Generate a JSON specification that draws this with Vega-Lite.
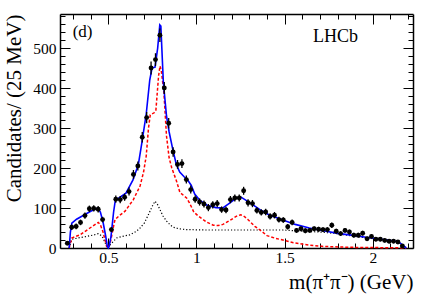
{
  "$schema": "https://vega.github.io/schema/vega-lite/v6.json",
  "width": 353,
  "height": 234,
  "autosize": {"type": "none"},
  "padding": {"left": 60, "top": 14, "right": 23, "bottom": 48},
  "background": "white",
  "config": {
    "view": {"stroke": null},
    "font": "Liberation Serif",
    "axis": {
      "labelFont": "Liberation Serif",
      "titleFont": "Liberation Serif",
      "labelColor": "black",
      "titleColor": "black",
      "tickColor": "black",
      "domainColor": "black",
      "domainWidth": 1.5,
      "tickWidth": 1,
      "grid": false,
      "labelFontSize": 15.5,
      "titleFontSize": 21,
      "titleFontWeight": "normal"
    }
  },
  "datasets": {
    "pts": [
      {"m": 0.2675, "n": 12, "e": 4}, {"m": 0.2925, "n": 52, "e": 7}, {"m": 0.3175, "n": 54, "e": 7},
      {"m": 0.3425, "n": 64, "e": 7}, {"m": 0.3675, "n": 81, "e": 8}, {"m": 0.3925, "n": 98, "e": 8},
      {"m": 0.4175, "n": 99, "e": 8}, {"m": 0.4425, "n": 97, "e": 8}, {"m": 0.4675, "n": 71, "e": 7},
      {"m": 0.5175, "n": 46, "e": 6}, {"m": 0.5425, "n": 122, "e": 9}, {"m": 0.5675, "n": 121, "e": 9},
      {"m": 0.5925, "n": 127, "e": 9}, {"m": 0.6175, "n": 141, "e": 10}, {"m": 0.6425, "n": 184, "e": 11},
      {"m": 0.6675, "n": 205, "e": 11}, {"m": 0.6925, "n": 277, "e": 13}, {"m": 0.7175, "n": 326, "e": 14},
      {"m": 0.7425, "n": 450, "e": 16}, {"m": 0.7675, "n": 471, "e": 16}, {"m": 0.7925, "n": 532, "e": 17},
      {"m": 0.8175, "n": 400, "e": 15}, {"m": 0.8425, "n": 312, "e": 13}, {"m": 0.8675, "n": 240, "e": 12},
      {"m": 0.8925, "n": 209, "e": 11}, {"m": 0.9175, "n": 211, "e": 11}, {"m": 0.9425, "n": 171, "e": 10},
      {"m": 0.9675, "n": 146, "e": 10}, {"m": 0.9925, "n": 122, "e": 9}, {"m": 1.0175, "n": 115, "e": 9},
      {"m": 1.0425, "n": 110, "e": 9}, {"m": 1.0675, "n": 101, "e": 9}, {"m": 1.0925, "n": 108, "e": 9},
      {"m": 1.1175, "n": 111, "e": 9}, {"m": 1.1425, "n": 96, "e": 8}, {"m": 1.1675, "n": 95, "e": 8},
      {"m": 1.1925, "n": 121, "e": 9}, {"m": 1.2175, "n": 125, "e": 9}, {"m": 1.2425, "n": 125, "e": 9},
      {"m": 1.2675, "n": 143, "e": 10}, {"m": 1.2925, "n": 113, "e": 9}, {"m": 1.3175, "n": 111, "e": 9},
      {"m": 1.3425, "n": 94, "e": 8}, {"m": 1.3675, "n": 89, "e": 8}, {"m": 1.3925, "n": 90, "e": 8},
      {"m": 1.4175, "n": 79, "e": 8}, {"m": 1.4425, "n": 82, "e": 8}, {"m": 1.4675, "n": 71, "e": 7},
      {"m": 1.4925, "n": 70, "e": 7}, {"m": 1.5175, "n": 53, "e": 7}, {"m": 1.5425, "n": 64, "e": 7},
      {"m": 1.5675, "n": 44, "e": 6}, {"m": 1.5925, "n": 48, "e": 6}, {"m": 1.6175, "n": 43, "e": 6},
      {"m": 1.6425, "n": 44, "e": 6}, {"m": 1.6675, "n": 48, "e": 6}, {"m": 1.6925, "n": 47, "e": 6},
      {"m": 1.7175, "n": 46, "e": 6}, {"m": 1.7425, "n": 46, "e": 6}, {"m": 1.7675, "n": 57, "e": 7},
      {"m": 1.7925, "n": 42, "e": 6}, {"m": 1.8175, "n": 36, "e": 6}, {"m": 1.8425, "n": 44, "e": 6},
      {"m": 1.8675, "n": 40, "e": 6}, {"m": 1.8925, "n": 32, "e": 6}, {"m": 1.9175, "n": 32, "e": 6},
      {"m": 1.9425, "n": 37, "e": 6}, {"m": 1.9675, "n": 23, "e": 5}, {"m": 1.9925, "n": 29, "e": 5},
      {"m": 2.0175, "n": 22, "e": 5}, {"m": 2.0425, "n": 22, "e": 5}, {"m": 2.0675, "n": 19, "e": 5},
      {"m": 2.0925, "n": 17, "e": 5}, {"m": 2.1175, "n": 17, "e": 5}, {"m": 2.1425, "n": 15, "e": 5},
      {"m": 2.1675, "n": 5, "e": 3}
    ],
    "blue": [
      {"m": 0.278, "v": 0}, {"m": 0.285, "v": 40}, {"m": 0.293, "v": 62}, {"m": 0.32, "v": 72},
      {"m": 0.36, "v": 82}, {"m": 0.40, "v": 92}, {"m": 0.44, "v": 100}, {"m": 0.455, "v": 90},
      {"m": 0.47, "v": 65}, {"m": 0.485, "v": 30}, {"m": 0.495, "v": 3}, {"m": 0.5, "v": 0},
      {"m": 0.505, "v": 5}, {"m": 0.515, "v": 28}, {"m": 0.53, "v": 90}, {"m": 0.54, "v": 120},
      {"m": 0.56, "v": 125}, {"m": 0.60, "v": 137}, {"m": 0.64, "v": 170}, {"m": 0.67, "v": 208},
      {"m": 0.69, "v": 262}, {"m": 0.715, "v": 335}, {"m": 0.735, "v": 420}, {"m": 0.748, "v": 450},
      {"m": 0.765, "v": 452}, {"m": 0.78, "v": 500}, {"m": 0.792, "v": 558}, {"m": 0.798, "v": 555},
      {"m": 0.812, "v": 415}, {"m": 0.83, "v": 330}, {"m": 0.845, "v": 290}, {"m": 0.865, "v": 248},
      {"m": 0.885, "v": 210}, {"m": 0.905, "v": 190}, {"m": 0.93, "v": 178}, {"m": 0.95, "v": 170},
      {"m": 0.97, "v": 157}, {"m": 0.99, "v": 135}, {"m": 1.02, "v": 119}, {"m": 1.06, "v": 107},
      {"m": 1.11, "v": 101}, {"m": 1.15, "v": 100}, {"m": 1.19, "v": 113}, {"m": 1.22, "v": 123},
      {"m": 1.25, "v": 128}, {"m": 1.275, "v": 121}, {"m": 1.31, "v": 111}, {"m": 1.36, "v": 96},
      {"m": 1.41, "v": 83}, {"m": 1.49, "v": 70}, {"m": 1.56, "v": 59}, {"m": 1.64, "v": 50},
      {"m": 1.72, "v": 43}, {"m": 1.81, "v": 36}, {"m": 1.9, "v": 31}, {"m": 1.96, "v": 27},
      {"m": 2.05, "v": 22}, {"m": 2.13, "v": 17}, {"m": 2.16, "v": 11}, {"m": 2.175, "v": 5},
      {"m": 2.19, "v": 0}
    ],
    "red": [
      {"m": 0.278, "v": 0}, {"m": 0.293, "v": 25}, {"m": 0.34, "v": 33}, {"m": 0.396, "v": 50},
      {"m": 0.443, "v": 64}, {"m": 0.455, "v": 58}, {"m": 0.47, "v": 40}, {"m": 0.49, "v": 5},
      {"m": 0.497, "v": 0}, {"m": 0.505, "v": 5}, {"m": 0.515, "v": 21}, {"m": 0.53, "v": 55},
      {"m": 0.538, "v": 71}, {"m": 0.56, "v": 80}, {"m": 0.595, "v": 92}, {"m": 0.642, "v": 121},
      {"m": 0.68, "v": 155}, {"m": 0.70, "v": 190}, {"m": 0.715, "v": 230}, {"m": 0.728, "v": 300},
      {"m": 0.738, "v": 333}, {"m": 0.76, "v": 338}, {"m": 0.77, "v": 345}, {"m": 0.785, "v": 430},
      {"m": 0.793, "v": 455}, {"m": 0.80, "v": 445}, {"m": 0.815, "v": 390}, {"m": 0.83, "v": 280},
      {"m": 0.845, "v": 225}, {"m": 0.86, "v": 200}, {"m": 0.887, "v": 167}, {"m": 0.906, "v": 139},
      {"m": 0.944, "v": 125}, {"m": 0.96, "v": 113}, {"m": 0.985, "v": 90}, {"m": 1.01, "v": 80},
      {"m": 1.057, "v": 65}, {"m": 1.095, "v": 57}, {"m": 1.123, "v": 56}, {"m": 1.15, "v": 59},
      {"m": 1.19, "v": 69}, {"m": 1.225, "v": 79}, {"m": 1.25, "v": 83}, {"m": 1.265, "v": 81},
      {"m": 1.29, "v": 72}, {"m": 1.331, "v": 54}, {"m": 1.36, "v": 45}, {"m": 1.40, "v": 31},
      {"m": 1.45, "v": 24}, {"m": 1.49, "v": 20}, {"m": 1.55, "v": 13}, {"m": 1.643, "v": 7},
      {"m": 1.72, "v": 4}, {"m": 1.813, "v": 2.5}, {"m": 1.9, "v": 1.5}, {"m": 2.0, "v": 1},
      {"m": 2.1, "v": 0.8}, {"m": 2.19, "v": 0}
    ],
    "black": [
      {"m": 0.278, "v": 0}, {"m": 0.293, "v": 22}, {"m": 0.34, "v": 26}, {"m": 0.378, "v": 29},
      {"m": 0.42, "v": 33}, {"m": 0.443, "v": 36}, {"m": 0.46, "v": 31}, {"m": 0.47, "v": 25},
      {"m": 0.485, "v": 10}, {"m": 0.494, "v": 0}, {"m": 0.505, "v": 5}, {"m": 0.519, "v": 12},
      {"m": 0.547, "v": 25}, {"m": 0.58, "v": 29}, {"m": 0.623, "v": 33}, {"m": 0.66, "v": 42},
      {"m": 0.68, "v": 50}, {"m": 0.705, "v": 63}, {"m": 0.727, "v": 83}, {"m": 0.75, "v": 105},
      {"m": 0.765, "v": 117}, {"m": 0.78, "v": 108}, {"m": 0.793, "v": 96}, {"m": 0.81, "v": 80},
      {"m": 0.831, "v": 67}, {"m": 0.85, "v": 58}, {"m": 0.868, "v": 52}, {"m": 0.9, "v": 48},
      {"m": 0.944, "v": 46}, {"m": 1.057, "v": 45}, {"m": 1.2, "v": 45}, {"m": 1.4, "v": 45},
      {"m": 1.49, "v": 45}, {"m": 1.6, "v": 42}, {"m": 1.7, "v": 40}, {"m": 1.775, "v": 37},
      {"m": 1.87, "v": 31}, {"m": 1.964, "v": 25}, {"m": 2.05, "v": 21}, {"m": 2.134, "v": 17},
      {"m": 2.16, "v": 11}, {"m": 2.175, "v": 5}, {"m": 2.19, "v": 0}
    ],
    "labels": [
      {"m": 0.298, "v": 541, "t": "(d)", "s": 17},
      {"m": 1.661, "v": 527, "t": "LHCb", "s": 18}
    ]
  },
  "resolve": {"axis": {"x": "independent", "y": "independent"}},
  "layer": [
    {
      "data": {"name": "black"},
      "mark": {"type": "line", "color": "black", "strokeWidth": 1.2, "strokeDash": [1.2, 2]},
      "encoding": {
        "x": {"field": "m", "type": "quantitative", "scale": {"domain": [0.226, 2.228], "nice": false, "zero": false},
          "axis": {"orient": "bottom", "title": "m(π⁺π⁻) (GeV)", "titleAnchor": "end", "titlePadding": 1,
            "labelFont": "Liberation Serif", "titleFont": "Liberation Serif",
            "values": [0.3, 0.4, 0.5, 0.6, 0.7, 0.8, 0.9, 1.0, 1.1, 1.2, 1.3, 1.4, 1.5, 1.6, 1.7, 1.8, 1.9, 2.0, 2.1, 2.2],
            "labelExpr": "abs(datum.value*2 - round(datum.value*2)) < 0.001 ? toString(round(datum.value*10)/10) : ''",
            "tickSize": {"condition": {"test": "abs(datum.value*2 - round(datum.value*2)) < 0.001", "value": -10}, "value": -5},
            "labelPadding": 12, "labelFlush": false, "labelOverlap": false}},
        "y": {"field": "v", "type": "quantitative", "scale": {"domain": [0, 585], "nice": false},
          "axis": {"orient": "left", "title": "Candidates/ (25 MeV)", "titleAnchor": "end", "titlePadding": 8,
            "labelFont": "Liberation Serif", "titleFont": "Liberation Serif",
            "values": [0, 20, 40, 60, 80, 100, 120, 140, 160, 180, 200, 220, 240, 260, 280, 300, 320, 340, 360, 380, 400, 420, 440, 460, 480, 500, 520, 540, 560, 580],
            "labelExpr": "datum.value % 100 === 0 ? datum.label : ''",
            "tickSize": {"condition": {"test": "datum.value % 100 === 0", "value": -10}, "value": -5},
            "labelPadding": 14, "labelOverlap": false, "labelFlush": false}}
      }
    },
    {
      "data": {"name": "red"},
      "mark": {"type": "line", "color": "#ff0000", "strokeWidth": 1.5, "strokeDash": [3, 2]},
      "encoding": {
        "x": {"field": "m", "type": "quantitative",
          "axis": {"orient": "top", "title": null, "labels": false,
            "values": [0.3, 0.4, 0.5, 0.6, 0.7, 0.8, 0.9, 1.0, 1.1, 1.2, 1.3, 1.4, 1.5, 1.6, 1.7, 1.8, 1.9, 2.0, 2.1, 2.2],
            "tickSize": {"condition": {"test": "abs(datum.value*2 - round(datum.value*2)) < 0.001", "value": -10}, "value": -5}}},
        "y": {"field": "v", "type": "quantitative",
          "axis": {"orient": "right", "title": null, "labels": false,
            "values": [0, 20, 40, 60, 80, 100, 120, 140, 160, 180, 200, 220, 240, 260, 280, 300, 320, 340, 360, 380, 400, 420, 440, 460, 480, 500, 520, 540, 560, 580],
            "tickSize": {"condition": {"test": "datum.value % 100 === 0", "value": -10}, "value": -5}}}
      }
    },
    {
      "data": {"name": "blue"},
      "mark": {"type": "line", "color": "#0000ff", "strokeWidth": 1.6},
      "encoding": {
        "x": {"field": "m", "type": "quantitative", "axis": null},
        "y": {"field": "v", "type": "quantitative", "axis": null}
      }
    },
    {
      "data": {"name": "pts"},
      "mark": {"type": "errorbar", "color": "black", "thickness": 1.3},
      "encoding": {
        "x": {"field": "m", "type": "quantitative", "axis": null},
        "y": {"field": "n", "type": "quantitative", "axis": null},
        "yError": {"field": "e"}
      }
    },
    {
      "data": {"name": "pts"},
      "mark": {"type": "circle", "color": "black", "opacity": 1, "size": 24},
      "encoding": {
        "x": {"field": "m", "type": "quantitative", "axis": null},
        "y": {"field": "n", "type": "quantitative", "axis": null}
      }
    },
    {
      "data": {"name": "labels"},
      "mark": {"type": "text", "font": "Liberation Serif", "align": "left", "baseline": "middle", "color": "black"},
      "encoding": {
        "x": {"field": "m", "type": "quantitative", "axis": null},
        "y": {"field": "v", "type": "quantitative", "axis": null},
        "text": {"field": "t"},
        "size": {"field": "s", "type": "quantitative", "scale": null}
      }
    }
  ]
}
